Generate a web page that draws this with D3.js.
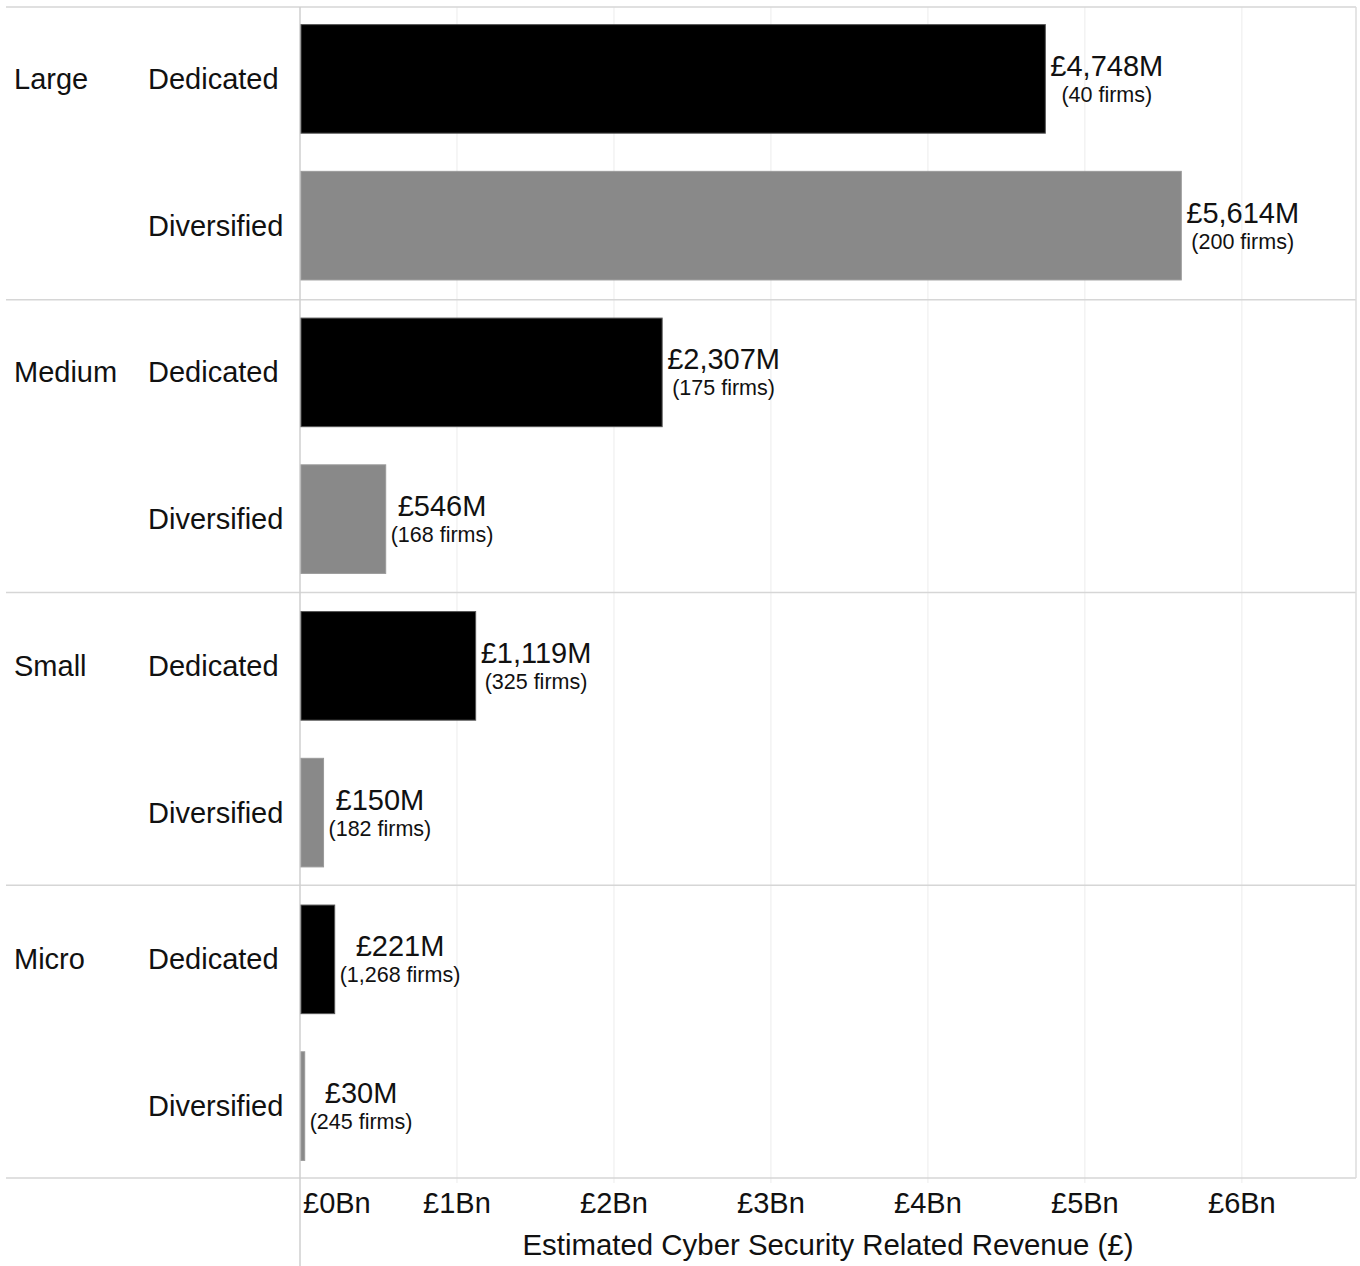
<!DOCTYPE html>
<html>
<head>
<meta charset="utf-8">
<script src="https://cdn.jsdelivr.net/npm/d3@7"></script>
<style>
  html, body { margin: 0; padding: 0; background: #fff; }
  svg { display: block; font-family: "Liberation Sans", Arial, sans-serif; }
</style>
</head>
<body>
<svg id="chart" width="1360" height="1266"></svg>
<script>
// Firm size groups and business type within each group
const sizes = ["Large", "Medium", "Small", "Micro"];
const types = ["Dedicated", "Diversified"];

// Cyber security related revenue, £M (Dedicated, Diversified per size)
const revenueDedicated = [4748, 2307, 1119, 221];
const revenueDiversified = [5614, 546, 150, 30];

// Number of firms behind each bar
const firmsDedicated = [40, 175, 325, 1268];
const firmsDiversified = [200, 168, 182, 245];

// Axis ticks in £Bn
const tickValues = [0, 1, 2, 3, 4, 5, 6];

const rows = [];
sizes.forEach((s, i) => {
  rows.push({ size: s, type: types[0], value: revenueDedicated[i], firms: firmsDedicated[i], first: true });
  rows.push({ size: s, type: types[1], value: revenueDiversified[i], firms: firmsDiversified[i], first: false });
});

const svg = d3.select("#chart");
const plotLeft = 300, plotRight = 1356, plotTop = 7, plotBottom = 1178;

const x = d3.scaleLinear().domain([0, 6727]).range([plotLeft, plotRight]);
const y = d3.scaleBand()
  .domain(rows.map(d => d.size + "|" + d.type))
  .range([plotTop, plotBottom])
  .paddingInner(0.26)
  .paddingOuter(0.12);

const fmt = d3.format(",");

// Vertical gridlines
svg.append("g").selectAll("line").data(tickValues.slice(1)).join("line")
  .attr("x1", d => x(d * 1000)).attr("x2", d => x(d * 1000))
  .attr("y1", plotTop).attr("y2", plotBottom + 5)
  .attr("stroke", "#ececec").attr("stroke-width", 1);

// Panel separators between size groups
const panelH = (plotBottom - plotTop) / sizes.length;
svg.append("g").selectAll("line").data(d3.range(sizes.length + 1)).join("line")
  .attr("x1", 6).attr("x2", plotRight)
  .attr("y1", d => plotTop + d * panelH).attr("y2", d => plotTop + d * panelH)
  .attr("stroke", "#d6d6d6").attr("stroke-width", 1.5);

// Right border and zero line
svg.append("line").attr("x1", plotRight).attr("x2", plotRight).attr("y1", plotTop).attr("y2", plotBottom)
  .attr("stroke", "#dcdcdc").attr("stroke-width", 1.5);
svg.append("line").attr("x1", plotLeft).attr("x2", plotLeft).attr("y1", plotTop).attr("y2", 1266)
  .attr("stroke", "#cfcfcf").attr("stroke-width", 1.5);

// Bars
svg.append("g").selectAll("rect").data(rows).join("rect")
  .attr("x", x(0) + 1)
  .attr("y", d => y(d.size + "|" + d.type))
  .attr("width", d => Math.max(x(d.value) - x(0) - 1, 2))
  .attr("height", y.bandwidth())
  .attr("fill", d => d.type === "Dedicated" ? "#000000" : "#898989")
  .attr("stroke", d => d.type === "Dedicated" ? "#555" : "#9a9a9a")
  .attr("stroke-width", 1);

// Row labels: size (first row in group) and type
const labels = svg.append("g").attr("font-size", 29).attr("fill", "#111");
rows.forEach(d => {
  const cy = y(d.size + "|" + d.type) + y.bandwidth() / 2;
  if (d.first) {
    labels.append("text").attr("x", 14).attr("y", cy + 10).text(d.size);
  }
  labels.append("text").attr("x", 148).attr("y", cy + 10).text(d.type);
});

// Value labels next to each bar
const vl = svg.append("g").attr("fill", "#111");
rows.forEach(d => {
  const cy = y(d.size + "|" + d.type) + y.bandwidth() / 2;
  const g = vl.append("g");
  const t1 = g.append("text").attr("font-size", 29).attr("y", cy - 3)
    .attr("text-anchor", "middle").text("£" + fmt(d.value) + "M");
  const t2 = g.append("text").attr("font-size", 21.5).attr("y", cy + 23)
    .attr("text-anchor", "middle").text("(" + fmt(d.firms) + " firms)");
  const w = Math.max(t1.node().getComputedTextLength(), t2.node().getComputedTextLength());
  const cx = x(d.value) + 5 + w / 2;
  t1.attr("x", cx);
  t2.attr("x", cx);
});

// X axis tick labels
const ax = svg.append("g").attr("font-size", 29).attr("fill", "#111");
tickValues.forEach(v => {
  const t = ax.append("text").attr("y", 1213).text("£" + v + "Bn");
  if (v === 0) {
    t.attr("x", plotLeft + 3).attr("text-anchor", "start");
  } else {
    t.attr("x", x(v * 1000)).attr("text-anchor", "middle");
  }
});

// Axis title
svg.append("text").attr("x", (plotLeft + plotRight) / 2).attr("y", 1255)
  .attr("text-anchor", "middle").attr("font-size", 29.4).attr("fill", "#111")
  .text("Estimated Cyber Security Related Revenue (£)");
</script>
</body>
</html>
